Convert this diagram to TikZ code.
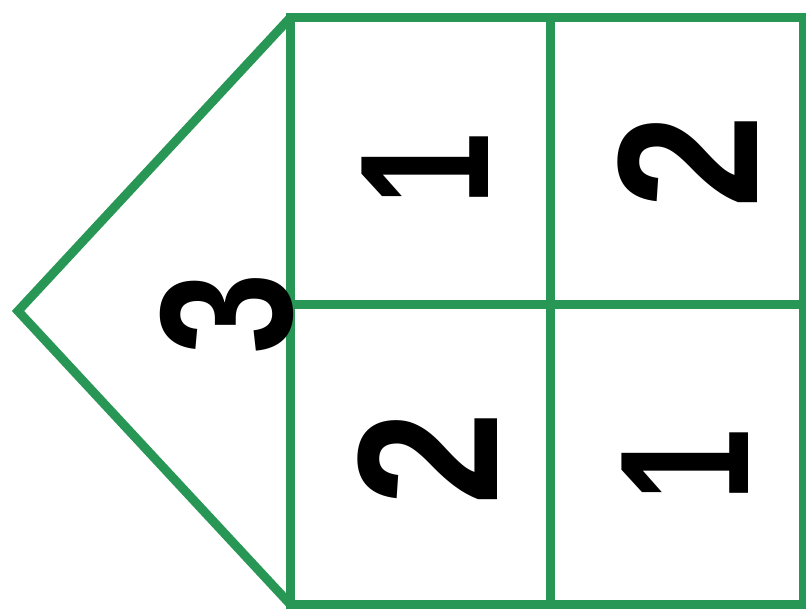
\documentclass[tikz,border=0pt]{standalone}
\usepackage{fontspec}
\setmainfont{Liberation Sans}
\usepackage{graphicx}
\definecolor{grn}{RGB}{40,150,85}
\begin{document}
\begin{tikzpicture}[x=1pt,y=-1pt,
  edge/.style={draw=grn,line width=9pt,line join=miter},
  digit/.style={inner sep=0pt,outer sep=0pt,anchor=south,rotate=90,
    font=\fontsize{200}{200}\selectfont\bfseries}]
\useasboundingbox (0,0) rectangle (806,609);
\fill[white] (0,0) rectangle (806,609);
\coordinate (tl) at (290,18);
\coordinate (tm) at (550,18);
\coordinate (tr) at (803,18);
\coordinate (ml) at (290,305);
\coordinate (mr) at (803,305);
\coordinate (bl) at (290,604);
\coordinate (bm) at (550,604);
\coordinate (br) at (803,604);
\coordinate (apex) at (18,311);
\draw[edge] (tl) -- (tr) -- (br) -- (bl) -- cycle;
\draw[edge] (tl) -- (apex) -- (bl);
\draw[edge] (ml) -- (mr);
\draw[edge] (tm) -- (bm);
\node[digit] (d1) at (488,169) {\scalebox{0.65}[0.92]{1}};
\node[digit] (d2) at (757,162) {\scalebox{0.84}[1]{2}};
\node[digit] (d3) at (497,459) {\scalebox{0.84}[1]{2}};
\node[digit] (d4) at (748,465) {\scalebox{0.65}[0.92]{1}};
\node[digit] (d5) at (294,314) {\scalebox{0.73}[0.94]{3}};
\end{tikzpicture}
\end{document}
